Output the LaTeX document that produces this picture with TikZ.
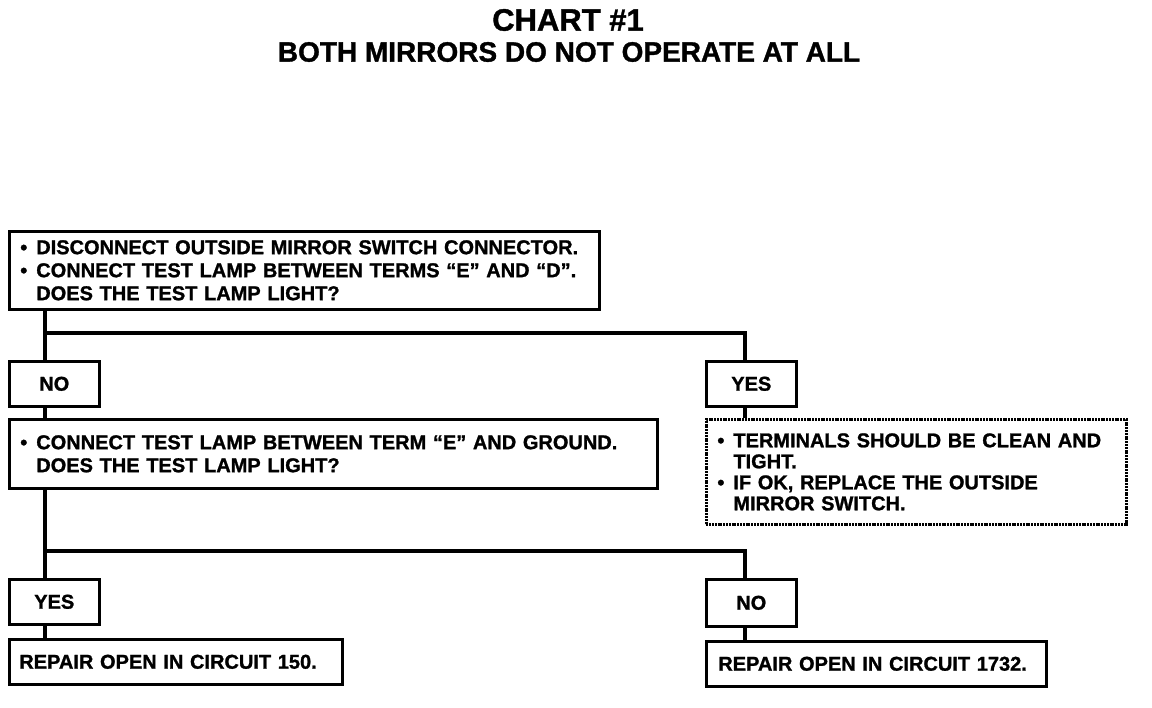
\documentclass[tikz,border=0pt]{standalone}
\usepackage{fontspec}
\setmainfont{Liberation Sans}[BoldFeatures={FakeBold=1.2}]
\newcommand\bul{\makebox[16pt][l]{\textbullet}}
\newcommand\ind{\hspace*{16pt}}
\begin{document}
\begin{tikzpicture}[x=1pt,y=-1pt,
  txt/.style={font=\fontsize{20}{23}\selectfont\bfseries},
  box/.style={txt, draw, line width=2.6pt, rectangle, anchor=north west, inner xsep=11pt, inner ysep=0pt, align=left},
  ansbox/.style={txt, draw, line width=2.6pt, rectangle, anchor=north west, minimum width=90pt, minimum height=45pt, inner sep=0pt},
  dotbox/.style={box, dash pattern=on 2pt off 0.8pt, line width=2.8pt},
  conn/.style={line width=4.5pt}]
\useasboundingbox (0,0) rectangle (1152,708);
\node[font=\fontsize{31}{31}\selectfont\bfseries] (title) at (568,20) {CHART \#1};
\node[font=\fontsize{28}{28}\selectfont\bfseries] (sub) at (569,52) {BOTH MIRRORS DO NOT OPERATE AT ALL};

\node[box, text width=568pt, minimum height=78pt] (b1) at (8,230)
  {\bul DISCONNECT OUTSIDE MIRROR SWITCH CONNECTOR.\\
   \bul CONNECT TEST LAMP BETWEEN TERMS “E” AND “D”.\\
   \ind DOES THE TEST LAMP LIGHT?};

\node[ansbox] (no1) at (8,360) {NO};
\node[ansbox] (yes1) at (705,360) {YES};

\node[box, text width=626pt, minimum height=69pt] (b2) at (8,418)
  {\bul CONNECT TEST LAMP BETWEEN TERM “E” AND GROUND.\\
   \ind DOES THE TEST LAMP LIGHT?};

\node[dotbox, text width=398pt, minimum height=105pt, font=\fontsize{20}{21}\selectfont\bfseries] (b3) at (705,418)
  {\bul TERMINALS SHOULD BE CLEAN AND\\
   \ind TIGHT.\\
   \bul IF OK, REPLACE THE OUTSIDE\\
   \ind MIRROR SWITCH.};

\node[ansbox] (yes2) at (8,578) {YES};
\node[ansbox, minimum height=47pt] (no2) at (705,578) {NO};

\node[box, text width=313pt, minimum height=45pt, inner xsep=10pt] (b4) at (8,638) {REPAIR OPEN IN CIRCUIT 150.};
\node[box, text width=316pt, minimum height=45pt, inner xsep=12pt] (b5) at (705,640) {REPAIR OPEN IN CIRCUIT 1732.};

\coordinate (jl1) at (45,333);
\coordinate (jr1) at (745,333);
\coordinate (jl2) at (45,551);
\coordinate (jr2) at (745,551);

\draw[conn] (b1.south -| jl1) -- (no1.north -| jl1);
\draw[conn] (jl1) -- (jr1) -- (yes1.north -| jr1);
\draw[conn] (no1.south -| jl1) -- (b2.north -| jl1);
\draw[conn] (yes1.south -| jr1) -- (b3.north -| jr1);
\draw[conn] (b2.south -| jl2) -- (yes2.north -| jl2);
\draw[conn] (jl2) -- (jr2) -- (no2.north -| jr2);
\draw[conn] (yes2.south -| jl2) -- (b4.north -| jl2);
\draw[conn] (no2.south -| jr2) -- (b5.north -| jr2);
\end{tikzpicture}
\end{document}
